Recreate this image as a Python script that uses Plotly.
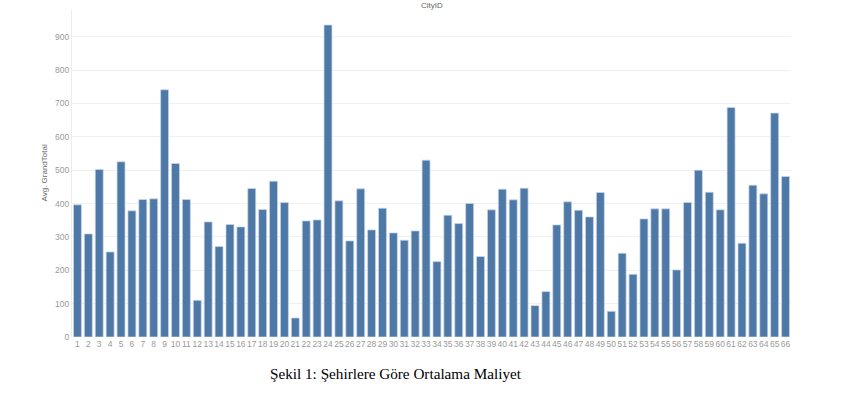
import plotly.graph_objects as go

city_ids = list(range(1, 67))
avg_grand_total = [
    396, 309, 502, 255, 525, 378, 412, 414, 741, 520,
    412, 110, 345, 271, 337, 330, 445, 382, 467, 403,
    57, 348, 351, 935, 408, 288, 444, 321, 386, 312,
    290, 318, 530, 226, 365, 340, 400, 241, 381, 443,
    411, 446, 94, 136, 336, 405, 380, 360, 433, 77,
    251, 188, 354, 384, 384, 201, 403, 500, 434, 381,
    688, 281, 455, 429, 671, 481,
]
y_ticks = [0, 100, 200, 300, 400, 500, 600, 700, 800, 900]
x_title = "CityID"
y_title = "Avg. GrandTotal"
caption = "Şekil 1: Şehirlere Göre Ortalama Maliyet"

fig = go.Figure(go.Bar(
    x=city_ids,
    y=avg_grand_total,
    marker=dict(color="#4e79a7", line=dict(color="rgba(200,215,235,0.9)", width=0.8)),
    hoverinfo="x+y",
))

fig.update_layout(
    width=848, height=395,
    margin=dict(l=72, r=57, t=10, b=57.5),
    plot_bgcolor="white", paper_bgcolor="white",
    bargap=0.27,
    showlegend=False,
    font=dict(family="Arial, Liberation Sans, sans-serif", size=8, color="#999999"),
)
fig.update_xaxes(
    range=[0.5, 66.5],
    tickmode="array", tickvals=city_ids, ticktext=[str(c) for c in city_ids],
    tickangle=0, showgrid=False, zeroline=False, showline=False,
    ticks="", tickfont=dict(size=8.5, color="#9a9a9a"),
)
fig.update_yaxes(
    range=[0, 980],
    tickmode="array", tickvals=y_ticks,
    showgrid=True, gridcolor="#f0f0f0", gridwidth=1,
    zeroline=False, showline=True, linecolor="#ececec", linewidth=1,
    ticks="", tickfont=dict(size=8.5, color="#9a9a9a"),
)

fig.add_annotation(text=x_title, xref="paper", yref="paper", x=0.5, y=1.0,
                   xanchor="center", yanchor="middle", yshift=5, showarrow=False,
                   font=dict(size=8, color="#666666"))
fig.add_annotation(text=y_title, xref="paper", yref="paper", x=(44 - 72) / 719, y=0.5,
                   xanchor="center", yanchor="middle", textangle=-90, showarrow=False,
                   font=dict(size=8, color="#666666"))
fig.add_annotation(text=caption, xref="paper", yref="paper", x=(396 - 72) / 719, y=0,
                   xanchor="center", yanchor="middle", yshift=-36.5, showarrow=False,
                   font=dict(family="Liberation Serif, Times New Roman, serif", size=15.2, color="#000000"))

fig.write_html("out.html", config={"displayModeBar": False},
               post_script="document.body.style.margin='0px';")
